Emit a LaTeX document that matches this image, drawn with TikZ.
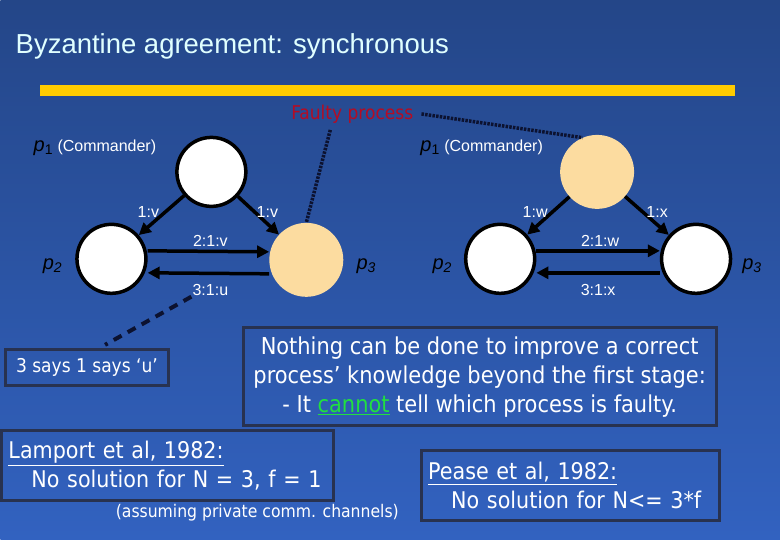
\documentclass[tikz,border=0pt]{standalone}
\usepackage{fontspec}
\setmainfont{Liberation Sans}
\newfontfamily\tahoma{DejaVu Sans Condensed}
\usetikzlibrary{arrows.meta}

\begin{document}
\begin{tikzpicture}[x=1pt, y=-1pt,
  proc/.style={circle, draw=black, line width=3.5pt, fill=white, minimum size=69pt, inner sep=0pt},
  faulty/.style={circle, fill=peach, minimum size=74pt, inner sep=0pt},
  msg/.style={-{Triangle[length=12pt,width=12pt]}, line width=3.5pt, black},
  lab/.style={text=white, font=\fontsize{16}{16}\selectfont, inner sep=1pt},
  pname/.style={font=\fontsize{20}{20}\selectfont\itshape, inner sep=1pt},
  cmd/.style={anchor=west, inner sep=0pt, font=\fontsize{16}{16}\selectfont},
  note/.style={draw=boxline, line width=3pt, text=white, font=\tahoma\fontsize{23.3}{29}\selectfont},
  dotline/.style={line width=3.5pt, navy, dash pattern=on 2.5pt off 1.2pt},
  dashline/.style={line width=4pt, navy, dash pattern=on 9pt off 7pt}]
  \definecolor{bgtop}{RGB}{36,70,136}
  \definecolor{bgbot}{RGB}{50,98,192}
  \definecolor{baryellow}{RGB}{255,204,0}
  \definecolor{titlecyan}{RGB}{224,255,255}
  \definecolor{peach}{RGB}{252,220,160}
  \definecolor{faultred}{RGB}{180,12,36}
  \definecolor{navy}{RGB}{12,18,48}
  \definecolor{boxline}{RGB}{40,50,80}
  \definecolor{cgreen}{RGB}{32,224,64}
  \shade[top color=bgtop, bottom color=bgbot] (0,0) rectangle (780,540);
  \fill[baryellow] (40,85) rectangle (735,96);
  \node[anchor=base west, text=titlecyan, font=\fontsize{27.5}{27.5}\selectfont, inner sep=0pt]
    (title) at (15,54) {Byzantine agreement: synchronous};

  % left: p3 is faulty
  \node[proc] (a1) at (211,172) {};
  \node[proc] (a2) at (111,259) {};
  \node[faulty] (a3) at (306,260) {};
  \draw[msg] (a1) -- (a2);
  \draw[msg] (a1) -- (a3);
  \draw[msg] ([yshift=8pt]a2.east) -- ([yshift=8pt]a3.west);
  \draw[msg] ([yshift=-14pt]a3.west) -- ([yshift=-14pt]a2.east);
  \node[cmd] (c1) at (33,148) {{\fontsize{20}{20}\selectfont\textit{p}\textsubscript{1}} \textcolor{white}{(Commander)}};
  \node[lab] (l1) at (148,212) {1:v};
  \node[lab] (l2) at (267,212) {1:v};
  \node[lab] (l21v) at (210,241) {2:1:v};
  \node[lab] (l31u) at (210,290) {3:1:u};
  \node[pname] (n2) at (52,266) {p\textsubscript{2}};
  \node[pname] (n3) at (366,266) {p\textsubscript{3}};

  % right: p1 is faulty
  \node[faulty] (b1) at (597,172) {};
  \node[proc] (b2) at (500,259) {};
  \node[proc] (b3) at (696,259) {};
  \draw[msg] (b1) -- (b2);
  \draw[msg] (b1) -- (b3);
  \draw[msg] ([yshift=8pt]b2.east) -- ([yshift=8pt]b3.west);
  \draw[msg] ([yshift=-14pt]b3.west) -- ([yshift=-14pt]b2.east);
  \node[cmd] (c2) at (420,148) {{\fontsize{20}{20}\selectfont\textit{p}\textsubscript{1}} \textcolor{white}{(Commander)}};
  \node[lab] (m1) at (535,212) {1:w};
  \node[lab] (m2) at (657,212) {1:x};
  \node[lab] (m21w) at (600,241) {2:1:w};
  \node[lab] (m31x) at (598,290) {3:1:x};
  \node[pname] (q2) at (442,266) {p\textsubscript{2}};
  \node[pname] (q3) at (752,266) {p\textsubscript{3}};

  \node[text=faultred, font=\tahoma\fontsize{19}{19}\selectfont, inner sep=4pt] (fault) at (352,114) {Faulty process};
  \coordinate (f1) at (330,130);
  \draw[dotline] (f1) -- (a3.north);
  \draw[dotline] ([xshift=4pt]fault.east) -- (b1.113);

  \node[note, font=\tahoma\fontsize{19}{19}\selectfont, minimum width=163pt, minimum height=36pt] (says) at (86.5,368) {3 says 1 says ‘u’};
  \draw[dashline, shorten >=7pt] (l31u.south west) -- ([xshift=12pt]says.north);

  \node[note, minimum width=473pt, minimum height=98pt, align=center] (know) at (479.5,377)
    {Nothing can be done to improve a correct\\process’ knowledge beyond the first stage:\\- It \textcolor{cgreen}{\underline{cannot}} tell which process is faulty.};
  \node[note, font=\tahoma\fontsize{23}{29}\selectfont, text width=318pt, inner xsep=7pt, minimum height=70pt, align=left] (lamport) at (167,466)
    {\underline{Lamport et al, 1982:}\\\hspace*{23pt}No solution for N = 3, f = 1};
  \node[text=white, font=\tahoma\fontsize{17.4}{17.4}\selectfont] (assume) at (257,513) {(assuming private comm. channels)};
  \node[note, font=\tahoma\fontsize{23}{29}\selectfont, text width=284pt, inner xsep=7pt, minimum height=70pt, align=left] (pease) at (570,486)
    {\underline{Pease et al, 1982:}\\\hspace*{23pt}No solution for N<= 3*f};
\end{tikzpicture}
\end{document}
